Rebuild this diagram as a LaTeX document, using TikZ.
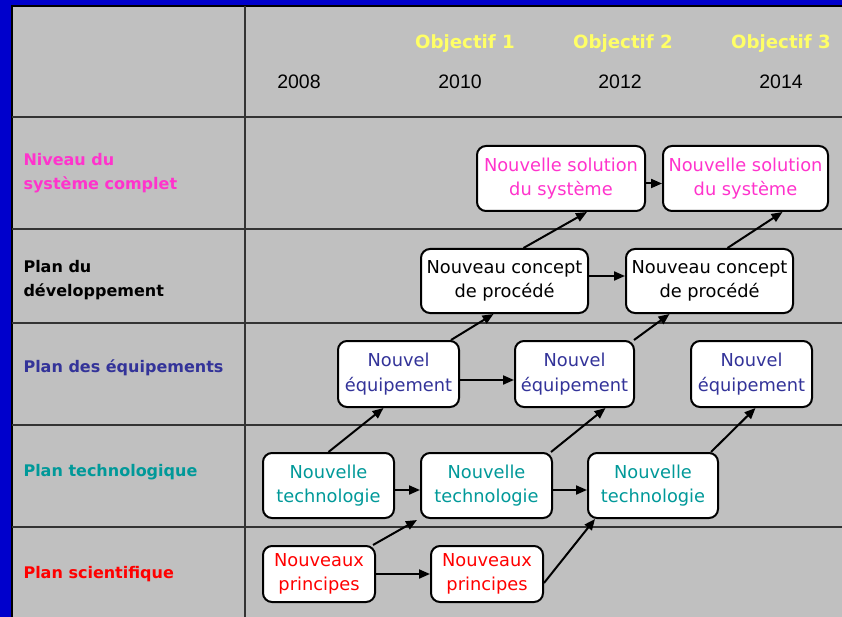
\documentclass[tikz,border=0pt]{standalone}
\usepackage{fontspec}
\setmainfont{DejaVu Sans}
\newfontfamily\yearfont{Liberation Sans}
\usetikzlibrary{arrows.meta}
\definecolor{bgrey}{RGB}{192,192,192}
\definecolor{frameblue}{RGB}{0,0,204}
\definecolor{pinkc}{RGB}{255,51,204}
\definecolor{purplec}{RGB}{51,51,153}
\definecolor{tealc}{RGB}{0,153,153}
\definecolor{redc}{RGB}{255,0,0}
\definecolor{yellowc}{RGB}{255,255,102}
\tikzset{
  box/.style={draw=black, line width=2pt, fill=white, rounded corners=9pt, align=center,
    inner sep=0pt, font=\fontsize{17.8}{24.5}\selectfont},
  lab/.style={anchor=west, align=left, font=\fontsize{16}{24}\selectfont\bfseries},
  yr/.style={font=\yearfont\fontsize{19.5}{22}\selectfont},
  obj/.style={text=yellowc, font=\fontsize{18.2}{20}\selectfont\bfseries},
  grid/.style={draw=black!80, line width=1.3pt},
  arr/.style={-{Triangle[length=11pt,width=9pt]}, line width=2pt, draw=black}
}
\begin{document}
\begin{tikzpicture}[x=1pt,y=-1pt]
\useasboundingbox (0,0) rectangle (842,617);
\fill[frameblue] (0,0) rectangle (842,617);
\fill[bgrey] (12,6) rectangle (842,617);
\draw[line width=2pt] (12,617) -- (12,6) -- (842,6);
\draw[grid, line width=2pt] (245,6) -- (245,617);
\foreach \yy in {117,229,323,425,527} \draw[grid] (12,\yy) -- (842,\yy);

% headers
\node[yr] (y1) at (299,82) {2008};
\node[yr] (y2) at (460,82) {2010};
\node[yr] (y3) at (620,82) {2012};
\node[yr] (y4) at (781,82) {2014};
\node[obj] (o1) at (465,44) {Objectif 1};
\node[obj] (o2) at (623,44) {Objectif 2};
\node[obj] (o3) at (781,44) {Objectif 3};

% row labels
\node[lab, text=pinkc] (l1) at (20,173) {Niveau du\\système complet};
\node[lab, text=black] (l2) at (20,280) {Plan du\\développement};
\node[lab, text=purplec] (l3) at (20,368) {Plan des équipements};
\node[lab, text=tealc] (l4) at (20,472) {Plan technologique};
\node[lab, text=redc] (l5) at (20,574) {Plan scientifique};

% boxes
\node[box, text=pinkc, minimum width=168pt, minimum height=65pt] (s1) at (561,178.5) {Nouvelle solution\\du système};
\node[box, text=pinkc, minimum width=165pt, minimum height=65pt] (s2) at (745.5,178.5) {Nouvelle solution\\du système};
\node[box, text=black, minimum width=167pt, minimum height=64pt] (c1) at (504.5,281) {Nouveau concept\\de procédé};
\node[box, text=black, minimum width=167pt, minimum height=64pt] (c2) at (709.5,281) {Nouveau concept\\de procédé};
\node[box, text=purplec, minimum width=121pt, minimum height=66pt] (e1) at (398.5,374) {Nouvel\\équipement};
\node[box, text=purplec, minimum width=119pt, minimum height=66pt] (e2) at (574.5,374) {Nouvel\\équipement};
\node[box, text=purplec, minimum width=121pt, minimum height=66pt] (e3) at (751.5,374) {Nouvel\\équipement};
\node[box, text=tealc, minimum width=131pt, minimum height=65pt] (t1) at (328.5,485.5) {Nouvelle\\technologie};
\node[box, text=tealc, minimum width=131pt, minimum height=65pt] (t2) at (486.5,485.5) {Nouvelle\\technologie};
\node[box, text=tealc, minimum width=130pt, minimum height=65pt] (t3) at (653,485.5) {Nouvelle\\technologie};
\node[box, text=redc, minimum width=112pt, minimum height=56pt] (p1) at (319,574) {Nouveaux\\principes};
\node[box, text=redc, minimum width=112pt, minimum height=56pt] (p2) at (487,574) {Nouveaux\\principes};

% horizontal arrows
\draw[arr] (p1.east) -- (p2.west);
\draw[arr] ([yshift=-4.5pt]t1.east) -- ([yshift=-4.5pt]t2.west);
\draw[arr] ([yshift=-4.5pt]t2.east) -- ([yshift=-4.5pt]t3.west);
\draw[arr] ([yshift=-6pt]e1.east) -- ([yshift=-6pt]e2.west);
\draw[arr] ([yshift=5pt]c1.east) -- ([yshift=5pt]c2.west);
\draw[arr] ([yshift=-5pt]s1.east) -- ([yshift=-5pt]s2.west);

% diagonal arrows
\draw[arr] ([xshift=-3pt]p1.north east) -- ([xshift=-3pt,yshift=-1pt]t2.south west);
\draw[arr] ([yshift=-9pt]p2.east) -- ([xshift=8pt]t3.south west);
\draw[arr] (t1.north) -- ([xshift=-15pt]e1.south);
\draw[arr] ([xshift=-2pt]t2.north east) -- ([xshift=31pt]e2.south);
\draw[arr] ([xshift=-8pt]t3.north east) -- ([xshift=4pt]e3.south);
\draw[arr] ([xshift=-9pt]e1.north east) -- ([xshift=-11pt]c1.south);
\draw[arr] ([xshift=-1pt]e2.north east) -- ([xshift=-40pt]c2.south);
\draw[arr] ([xshift=19pt]c1.north) -- ([xshift=26pt]s1.south);
\draw[arr] ([xshift=18pt]c2.north) -- ([xshift=37pt]s2.south);
\end{tikzpicture}
\end{document}
